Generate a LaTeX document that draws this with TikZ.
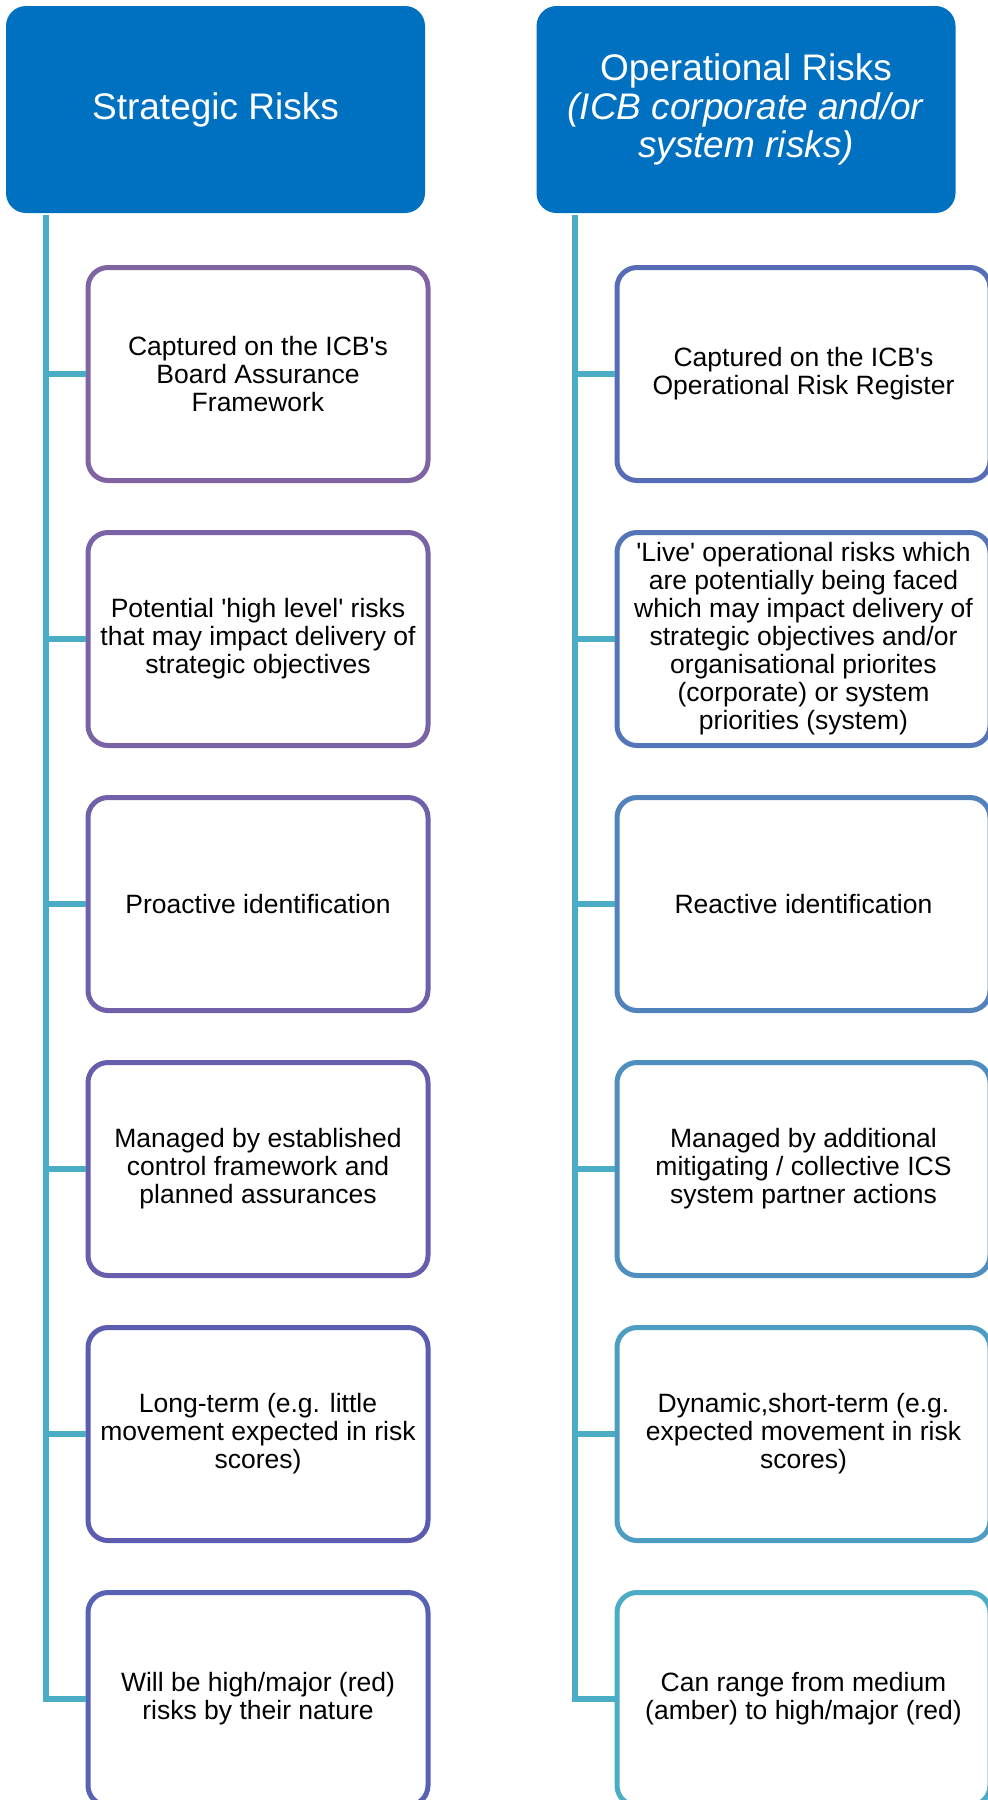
\documentclass[tikz,border=0pt]{standalone}
\usepackage{fontspec}
\setmainfont{Liberation Sans}
\usetikzlibrary{positioning}

\definecolor{hdblue}{RGB}{0,112,192}
\definecolor{trunkc}{RGB}{75,172,198}
% box outlines, purple to teal
\definecolor{bx0}{RGB}{128,100,162}
\definecolor{bx1}{RGB}{121,98,165}
\definecolor{bx2}{RGB}{112,95,169}
\definecolor{bx3}{RGB}{102,93,172}
\definecolor{bx4}{RGB}{91,91,175}
\definecolor{bx5}{RGB}{88,98,179}
\definecolor{bx6}{RGB}{86,108,182}
\definecolor{bx7}{RGB}{84,118,185}
\definecolor{bx8}{RGB}{81,130,188}
\definecolor{bx9}{RGB}{79,143,192}
\definecolor{bx10}{RGB}{77,157,195}
\definecolor{bx11}{RGB}{75,172,198}

\newcommand{\sq}{\textquotesingle}

\tikzset{
  riskhead/.style={fill=hdblue, rounded corners=20pt, minimum width=419pt, minimum height=207pt,
    text=white, align=center, inner sep=0pt, font=\fontsize{37}{38.5}\selectfont},
  riskbox/.style={draw, line width=5pt, fill=white, rounded corners=20pt, minimum height=213pt,
    align=center, inner sep=0pt, font=\fontsize{26.5}{28}\selectfont},
  trunk/.style={trunkc, line width=6pt},
}

\begin{document}
\begin{tikzpicture}[x=1pt, y=-1pt]
\clip (0,0) rectangle (988,1800);

% column heads
\node[riskhead] (lhead) at (215.5,109.5) {Strategic Risks};
\node[riskhead] (rhead) at (746,109.5) {Operational Risks\\\textit{(ICB corporate and/or}\\\textit{system risks)}};

% left column
\foreach \i/\txt in {1/{Captured on the ICB\sq s\\Board Assurance\\Framework},
    2/{Potential \sq high level\sq{} risks\\that may impact delivery of\\strategic objectives},
    3/{Proactive identification},
    4/{Managed by established\\control framework and\\planned assurances},
    5/{Long-term (e.g. little\\movement expected in risk\\scores)},
    6/{Will be high/major (red)\\risks by their nature}} {
  \pgfmathtruncatemacro{\k}{\i-1}
  \node[riskbox, draw=bx\k, minimum width=340pt] (L\i) at (258,{374+265*(\i-1)}) {\txt};
}

% right column
\foreach \i/\txt in {1/{Captured on the ICB\sq s\\Operational Risk Register},
    2/{\sq Live\sq{} operational risks which\\are potentially being faced\\which may impact delivery of\\strategic objectives and/or\\organisational priorites\\(corporate) or system\\priorities (system)},
    3/{Reactive identification},
    4/{Managed by additional\\mitigating / collective ICS\\system partner actions},
    5/{Dynamic,short-term (e.g.\\expected movement in risk\\scores)},
    6/{Can range from medium\\(amber) to high/major (red)}} {
  \pgfmathtruncatemacro{\k}{\i+5}
  \node[riskbox, draw=bx\k, minimum width=373pt] (R\i) at (803.5,{374+265*(\i-1)}) {\txt};
}

% trunks and branches
\coordinate (ltrunk) at (46,215);
\coordinate (rtrunk) at (575,215);
\draw[trunk] (ltrunk) -- (ltrunk |- L6.west) -- (L6.west);
\draw[trunk] (rtrunk) -- (rtrunk |- R6.west) -- (R6.west);
\foreach \i in {1,...,5} {
  \draw[trunk] (ltrunk |- L\i.west) -- (L\i.west);
  \draw[trunk] (rtrunk |- R\i.west) -- (R\i.west);
}
\end{tikzpicture}
\end{document}
